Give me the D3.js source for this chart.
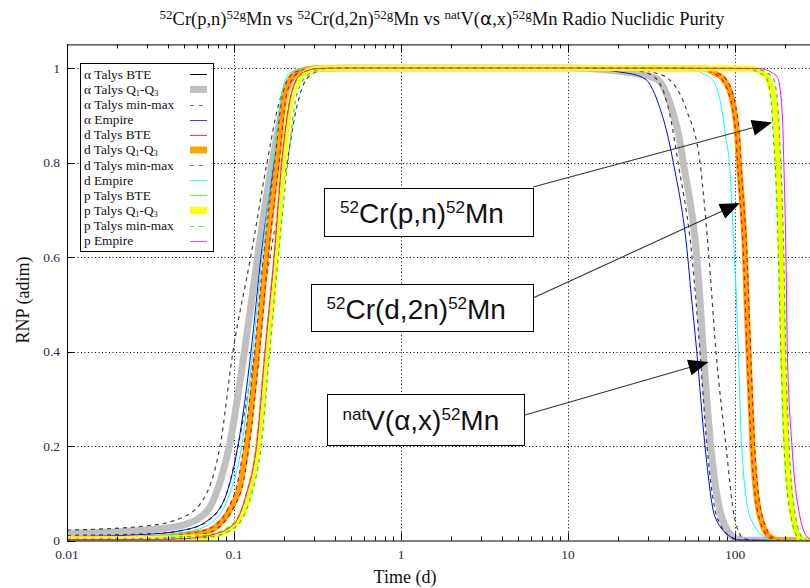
<!DOCTYPE html>
<html><head><meta charset="utf-8">
<script src="https://cdn.jsdelivr.net/npm/d3@7"></script>
<style>body{margin:0;background:#fff}</style>
</head><body>
<svg id="chart" width="810" height="588"></svg>
<script>
// Radio-nuclidic purity of 52gMn versus time after end of bombardment, [time (d), RNP]
const alphaBTE = [[0.01,0.015],[0.03,0.022],[0.05,0.033],[0.07,0.064],[0.0785,0.10],[0.094,0.20],[0.1158,0.40],[0.1385,0.60],[0.169,0.80],[0.2077,0.95],[0.2485,0.99],[0.33,0.999],[0.45,1],[1,1],[10,1],[24,0.99],[33.9,0.977],[41.8,0.914],[46.4,0.851],[49.0,0.80],[59.0,0.60],[61.1,0.531],[64.6,0.40],[71.6,0.20],[83.2,0.05],[100,0.005],[115,0.0005],[300,0]];
const alphaQ = [[0.01,0.015],[0.03,0.022],[0.05,0.033],[0.07,0.065],[0.0782,0.10],[0.0937,0.20],[0.1155,0.40],[0.1383,0.60],[0.169,0.80],[0.2077,0.95],[0.2485,0.99],[0.33,0.999],[0.45,1],[1,1],[10,1],[24,0.99],[33.9,0.977],[41.8,0.914],[46.4,0.851],[49.0,0.80],[59.0,0.60],[61.1,0.531],[64.6,0.40],[71.6,0.20],[83.2,0.05],[100,0.005],[115,0.0005],[300,0]];
const alphaMax = [[0.01,0.022],[0.03,0.031],[0.05,0.05],[0.0686,0.10],[0.0825,0.20],[0.0986,0.40],[0.1258,0.60],[0.1577,0.80],[0.184,0.92],[0.215,0.98],[0.27,0.997],[0.4,1],[1,1],[10,1],[25,0.999],[33,0.99],[40,0.977],[51.4,0.91],[61.7,0.80],[69.8,0.60],[76.9,0.40],[88.3,0.20],[99.1,0.05],[112.2,0.005],[130,0],[300,0]];
const alphaMin = [[0.01,0.011],[0.03,0.014],[0.05,0.022],[0.07,0.042],[0.0904,0.10],[0.1056,0.20],[0.1336,0.40],[0.164,0.60],[0.208,0.80],[0.235,0.91],[0.2724,0.977],[0.33,0.995],[0.45,1],[1,1],[10,1],[20,1],[26,0.995],[33.2,0.98],[40.8,0.90],[45.6,0.80],[55.3,0.60],[61.7,0.40],[67.9,0.20],[78.0,0.05],[97,0.005],[110,0],[300,0]];
const alphaEmpire = [[0.01,0.008],[0.03,0.013],[0.05,0.022],[0.07,0.043],[0.0904,0.10],[0.1056,0.20],[0.1264,0.40],[0.1451,0.60],[0.1743,0.80],[0.208,0.95],[0.25,0.99],[0.32,0.999],[0.45,1],[1,1],[10,1],[21.9,0.99],[28.9,0.977],[35.6,0.914],[39.9,0.851],[42.7,0.80],[52.1,0.60],[54.3,0.531],[59.0,0.40],[66.1,0.20],[75.9,0.05],[97.3,0.005],[107,0.001],[300,0]];

const dBTE = [[0.01,0.003],[0.03,0.005],[0.05,0.012],[0.07,0.02],[0.1056,0.10],[0.1191,0.20],[0.1378,0.40],[0.1556,0.60],[0.181,0.80],[0.202,0.95],[0.236,0.99],[0.3,0.999],[0.4,1],[1,1],[10,1],[65,0.999],[75,0.99],[85.1,0.977],[98.6,0.914],[103.3,0.851],[105.5,0.80],[114.8,0.60],[116.5,0.531],[120.3,0.40],[127.1,0.20],[141.3,0.05],[165,0.005],[185,0],[300,0]];
const dQ = [[0.01,0.003],[0.03,0.005],[0.05,0.012],[0.07,0.02],[0.1056,0.10],[0.1191,0.20],[0.1378,0.40],[0.1556,0.60],[0.181,0.80],[0.202,0.95],[0.236,0.99],[0.3,0.999],[0.4,1],[1,1],[10,1],[65,0.999],[75,0.99],[85.1,0.977],[98.6,0.914],[103.3,0.851],[105.5,0.80],[114.8,0.60],[116.5,0.531],[120.3,0.40],[127.1,0.20],[141.3,0.05],[165,0.005],[185,0],[300,0]];
const dMax = [[0.01,0.004],[0.03,0.006],[0.05,0.014],[0.07,0.024],[0.101,0.10],[0.1145,0.20],[0.133,0.40],[0.15,0.60],[0.175,0.80],[0.197,0.95],[0.228,0.99],[0.29,0.999],[0.4,1],[1,1],[10,1],[68,0.999],[78,0.99],[88,0.977],[101.5,0.914],[106.5,0.851],[108.5,0.80],[118,0.60],[124,0.40],[131,0.20],[146,0.05],[170,0.005],[190,0],[300,0]];
const dMin = [[0.01,0.002],[0.03,0.003],[0.05,0.009],[0.07,0.016],[0.109,0.10],[0.123,0.20],[0.142,0.40],[0.16,0.60],[0.186,0.80],[0.208,0.95],[0.243,0.99],[0.31,0.999],[0.42,1],[1,1],[10,1],[63,0.999],[73,0.99],[83,0.977],[96.5,0.914],[101.5,0.851],[103.5,0.80],[112.5,0.60],[118,0.40],[125,0.20],[139,0.05],[162,0.005],[182,0],[300,0]];
const dEmpire = [[0.01,0.006],[0.03,0.009],[0.05,0.017],[0.07,0.033],[0.0946,0.10],[0.1112,0.20],[0.1296,0.40],[0.147,0.60],[0.171,0.80],[0.194,0.95],[0.2165,0.99],[0.26,0.999],[0.35,1],[1,1],[10,1],[55,0.999],[63,0.99],[72.5,0.977],[83.2,0.914],[88.3,0.851],[92.5,0.80],[99.1,0.60],[101.4,0.531],[104.7,0.40],[109.6,0.20],[123,0.05],[155,0.005],[175,0],[300,0]];

const pBTE = [[0.01,0.002],[0.03,0.003],[0.05,0.006],[0.07,0.008],[0.099,0.03],[0.1225,0.10],[0.1392,0.20],[0.157,0.40],[0.178,0.60],[0.1965,0.80],[0.2256,0.95],[0.266,0.99],[0.33,0.999],[0.45,1],[1,1],[10,1],[120,0.999],[147,0.99],[158,0.977],[173.8,0.914],[177.7,0.851],[180,0.80],[188.4,0.60],[190,0.531],[193.6,0.40],[203,0.20],[222.5,0.05],[245,0.005],[264,0],[300,0]];
const pQ = [[0.01,0.002],[0.03,0.003],[0.05,0.006],[0.07,0.008],[0.099,0.03],[0.1225,0.10],[0.1392,0.20],[0.157,0.40],[0.178,0.60],[0.1965,0.80],[0.2256,0.95],[0.266,0.99],[0.33,0.999],[0.45,1],[1,1],[10,1],[120,0.999],[147,0.99],[158,0.977],[173.8,0.914],[177.7,0.851],[180,0.80],[188.4,0.60],[190,0.531],[193.6,0.40],[203,0.20],[222.5,0.05],[245,0.005],[264,0],[300,0]];
const pMax = [[0.01,0.003],[0.03,0.004],[0.05,0.008],[0.07,0.012],[0.099,0.035],[0.119,0.10],[0.136,0.20],[0.153,0.40],[0.174,0.60],[0.193,0.80],[0.222,0.95],[0.26,0.99],[0.32,0.999],[0.44,1],[1,1],[10,1],[130,0.999],[155,0.99],[170,0.977],[181,0.914],[185,0.851],[188,0.80],[196,0.60],[201,0.40],[211,0.20],[231,0.05],[255,0.005],[275,0],[300,0]];
const pMin = [[0.01,0.001],[0.03,0.002],[0.05,0.004],[0.07,0.007],[0.099,0.025],[0.128,0.10],[0.1455,0.20],[0.1635,0.40],[0.184,0.60],[0.21,0.80],[0.24,0.95],[0.29,0.99],[0.36,0.999],[0.5,1],[1,1],[10,1],[115,0.999],[140,0.99],[155,0.977],[166,0.914],[170,0.851],[173.8,0.80],[182,0.60],[188.4,0.40],[196.7,0.20],[216.5,0.05],[240,0.005],[258,0],[300,0]];
const pEmpire = [[0.01,0.002],[0.03,0.002],[0.05,0.004],[0.07,0.01],[0.099,0.033],[0.119,0.10],[0.1365,0.20],[0.1534,0.40],[0.1737,0.60],[0.193,0.80],[0.2225,0.95],[0.256,0.99],[0.32,0.999],[0.45,1],[1,1],[10,1],[140,0.999],[166.9,0.99],[180,0.98],[192,0.90],[196,0.80],[201.9,0.60],[205.8,0.40],[219.4,0.20],[244.9,0.05],[275,0.005],[300,0]];

const xTicks = [0.01, 0.1, 1, 10, 100];
const xTickLabels = ["0.01", "0.1", "1", "10", "100"];
const yTicks = [0, 0.2, 0.4, 0.6, 0.8, 1];
const yTickLabels = ["0", "0.2", "0.4", "0.6", "0.8", "1"];
const legendLabels = ["α Talys BTE", "α Talys Q1-Q3", "α Talys min-max", "α Empire",
                      "d Talys BTE", "d Talys Q1-Q3", "d Talys min-max", "d Empire",
                      "p Talys BTE", "p Talys Q1-Q3", "p Talys min-max", "p Empire"];

// Drawing styles, one entry per legend row (lines listed in drawing order)
const styles = [
  {lines: [alphaBTE], color: "#000000", w: 1, dash: null, swatch: "line"},
  {lines: [alphaQ], color: "#c0c0c0", w: 7, dash: null, swatch: "box"},
  {lines: [alphaMin, alphaMax], color: "#404040", w: 1.2, dash: "4,4", swatch: "line"},
  {lines: [alphaEmpire], color: "#0000ff", w: 1, dash: null, swatch: "line"},
  {lines: [dBTE], color: "#ff0000", w: 1, dash: null, swatch: "line"},
  {lines: [dQ], color: "#ffa500", w: 6, dash: null, swatch: "box"},
  {lines: [dMin, dMax], color: "#ff0000", w: 1.2, dash: "4,4", swatch: "line"},
  {lines: [dEmpire], color: "#00ffff", w: 1, dash: null, swatch: "line"},
  {lines: [pBTE], color: "#00ff00", w: 1, dash: null, swatch: "line"},
  {lines: [pQ], color: "#ffff00", w: 6, dash: null, swatch: "box"},
  {lines: [pMin, pMax], color: "#00ee00", w: 1.2, dash: "4,4", swatch: "line"},
  {lines: [pEmpire], color: "#ff00ff", w: 1, dash: null, swatch: "line"}
];

const svg = d3.select("#chart");
const L = 67, B = 540.5, T = 44.4, R = 814.7;
const x = d3.scaleLog().domain([0.01, 300]).range([L, R]);
const y = d3.scaleLinear().domain([0, 1.05]).range([B, T]);
const serif = "'Liberation Serif', 'Times New Roman', serif";
const sans = "'Liberation Sans', Arial, sans-serif";
const labelColor = "#2a2a40";

svg.append("rect").attr("width", 810).attr("height", 588).attr("fill", "#fff");

// Title with superscripts
function richText(g, parts, supSize, rise) {
  parts.forEach(p => {
    const ts = g.append("tspan").text(p.t);
    if (p.sup) ts.attr("font-size", supSize).attr("dy", -rise);
    else if (p.after) ts.attr("dy", rise);
    if (p.font) ts.attr("font-family", p.font);
  });
}
const title = svg.append("text").attr("x", 442).attr("y", 25).attr("text-anchor", "middle")
  .attr("font-family", serif).attr("font-size", 18.5).attr("fill", "#111");
richText(title, [
  {t: "52", sup: true}, {t: "Cr(p,n)", after: true}, {t: "52g", sup: true}, {t: "Mn vs ", after: true},
  {t: "52", sup: true}, {t: "Cr(d,2n)", after: true}, {t: "52g", sup: true}, {t: "Mn vs ", after: true},
  {t: "nat", sup: true}, {t: "V(", after: true}, {t: "α", font: "'DejaVu Sans', sans-serif"}, {t: ",x)"},
  {t: "52g", sup: true}, {t: "Mn Radio Nuclidic Purity", after: true}
], 13, 6.5);

// Grid
const grid = svg.append("g").attr("stroke", "#000").attr("stroke-width", 1).attr("stroke-dasharray", "1,2.5");
xTicks.slice(1).forEach(t => grid.append("line")
  .attr("x1", Math.round(x(t)) + 0.5).attr("x2", Math.round(x(t)) + 0.5).attr("y1", T).attr("y2", B));
yTicks.slice(1).forEach(v => grid.append("line")
  .attr("x1", L).attr("x2", R).attr("y1", Math.round(y(v)) + 0.5).attr("y2", Math.round(y(v)) + 0.5));

// Curves
svg.append("clipPath").attr("id", "plotClip").append("rect")
  .attr("x", L).attr("y", T).attr("width", R - L).attr("height", B - T);
const lineGen = d3.line().x(d => x(d[0])).y(d => y(d[1])).curve(d3.curveMonotoneX);
const curves = svg.append("g").attr("clip-path", "url(#plotClip)");
styles.forEach(s => s.lines.forEach(data => {
  curves.append("path").attr("d", lineGen(data)).attr("fill", "none")
    .attr("stroke", s.color).attr("stroke-width", s.w)
    .attr("stroke-dasharray", s.dash).attr("stroke-linejoin", "round");
}));

// Frame and ticks (ticks point inward)
const axes = svg.append("g").attr("stroke", "#000").attr("stroke-width", 1);
axes.append("line").attr("x1", L + 0.5).attr("x2", L + 0.5).attr("y1", T).attr("y2", B);
axes.append("line").attr("x1", L).attr("x2", R).attr("y1", B + 0.5).attr("y2", B + 0.5);
axes.append("line").attr("x1", L).attr("x2", R).attr("y1", T + 0.5).attr("y2", T + 0.5);
const minor = [];
[0.01, 0.1, 1, 10, 100].forEach(dec => { for (let k = 2; k <= 9; k++) { const t = dec * k; if (t <= 300) minor.push(t); } });
minor.forEach(t => {
  const px = Math.round(x(t)) + 0.5;
  axes.append("line").attr("x1", px).attr("x2", px).attr("y1", B).attr("y2", B - 4);
  axes.append("line").attr("x1", px).attr("x2", px).attr("y1", T).attr("y2", T + 4);
});
xTicks.forEach(t => {
  const px = Math.round(x(t)) + 0.5;
  axes.append("line").attr("x1", px).attr("x2", px).attr("y1", B).attr("y2", B - 8);
  axes.append("line").attr("x1", px).attr("x2", px).attr("y1", T).attr("y2", T + 8);
});
yTicks.forEach(v => {
  const py = Math.round(y(v)) + 0.5;
  axes.append("line").attr("x1", L).attr("x2", L + 8).attr("y1", py).attr("y2", py);
});

// Tick labels
const tl = svg.append("g").attr("font-family", serif).attr("font-size", 13.5).attr("fill", labelColor);
xTicks.forEach((t, i) => tl.append("text").attr("x", x(t)).attr("y", B + 18)
  .attr("text-anchor", "middle").text(xTickLabels[i]));
yTicks.forEach((v, i) => tl.append("text").attr("x", L - 7).attr("y", y(v) + 4.5)
  .attr("text-anchor", "end").text(yTickLabels[i]));

// Axis titles
svg.append("text").attr("x", 405).attr("y", 583).attr("text-anchor", "middle")
  .attr("font-family", serif).attr("font-size", 18).attr("fill", "#111").text("Time (d)");
svg.append("text").attr("transform", "translate(29,300) rotate(-90)").attr("text-anchor", "middle")
  .attr("font-family", serif).attr("font-size", 18).attr("fill", "#111").text("RNP (adim)");

// Legend
const lg = svg.append("g");
lg.append("rect").attr("x", 80.5).attr("y", 63.5).attr("width", 133).attr("height", 188)
  .attr("fill", "#fff").attr("stroke", "#000").attr("stroke-width", 1);
styles.forEach((s, i) => {
  const cy = 74.3 + i * 15.13;
  const txt = lg.append("text").attr("x", 84).attr("y", cy + 4.5)
    .attr("font-family", serif).attr("font-size", 13.3).attr("fill", "#111");
  const label = legendLabels[i];
  const m = label.match(/^(.*Q)1-Q3$/);
  if (m) {
    txt.append("tspan").text(m[1]);
    txt.append("tspan").text("1").attr("font-size", 8.5).attr("dy", 2);
    txt.append("tspan").text("-Q").attr("dy", -2);
    txt.append("tspan").text("3").attr("font-size", 8.5).attr("dy", 2);
  } else txt.text(label);
  if (s.swatch === "box") {
    lg.append("rect").attr("x", 190).attr("y", cy - 3.5).attr("width", 17).attr("height", 7).attr("fill", s.color);
  } else {
    lg.append("line").attr("x1", 190).attr("x2", 207).attr("y1", Math.round(cy) + 0.5).attr("y2", Math.round(cy) + 0.5)
      .attr("stroke", s.color).attr("stroke-width", 1).attr("stroke-dasharray", s.dash ? "4,5" : null)
      .attr("opacity", s.color === "#000000" ? 1 : 0.75);
  }
});

// Annotations: reaction labels with arrows
function arrow(x1, y1, x2, y2) {
  const dx = x2 - x1, dy = y2 - y1, len = Math.hypot(dx, dy);
  const ux = dx / len, uy = dy / len, hl = 20, hw = 8;
  const bx = x2 - ux * hl, by = y2 - uy * hl;
  svg.append("line").attr("x1", x1).attr("y1", y1).attr("x2", bx).attr("y2", by)
    .attr("stroke", "#333").attr("stroke-width", 1.1);
  svg.append("path").attr("fill", "#000")
    .attr("d", `M${x2},${y2}L${bx - uy * hw},${by + ux * hw}L${bx + uy * hw},${by - ux * hw}Z`);
}
function labelBox(bx, by, bw, bh, tx, ty, parts) {
  svg.append("rect").attr("x", bx + 0.5).attr("y", by + 0.5).attr("width", bw).attr("height", bh)
    .attr("fill", "#fff").attr("stroke", "#000").attr("stroke-width", 1);
  const t = svg.append("text").attr("x", tx).attr("y", ty).attr("font-family", sans)
    .attr("font-size", 28).attr("fill", "#111");
  parts.forEach(p => {
    const ts = t.append("tspan").text(p.t);
    if (p.sup) ts.attr("font-size", 17).attr("dy", -10);
    else if (p.after) ts.attr("dy", 10);
  });
}
arrow(533, 187, 772, 122.5);
arrow(533, 298, 740, 203);
arrow(525, 415, 708.5, 362);
labelBox(324, 188, 209, 48, 340, 223, [{t: "52", sup: true}, {t: "Cr(p,n)", after: true}, {t: "52", sup: true}, {t: "Mn", after: true}]);
labelBox(311, 284, 222, 47, 326.5, 318.5, [{t: "52", sup: true}, {t: "Cr(d,2n)", after: true}, {t: "52", sup: true}, {t: "Mn", after: true}]);
labelBox(327, 394, 197, 51, 342.5, 429.5, [{t: "nat", sup: true}, {t: "V(α,x)", after: true}, {t: "52", sup: true}, {t: "Mn", after: true}]);
</script>
</body></html>
